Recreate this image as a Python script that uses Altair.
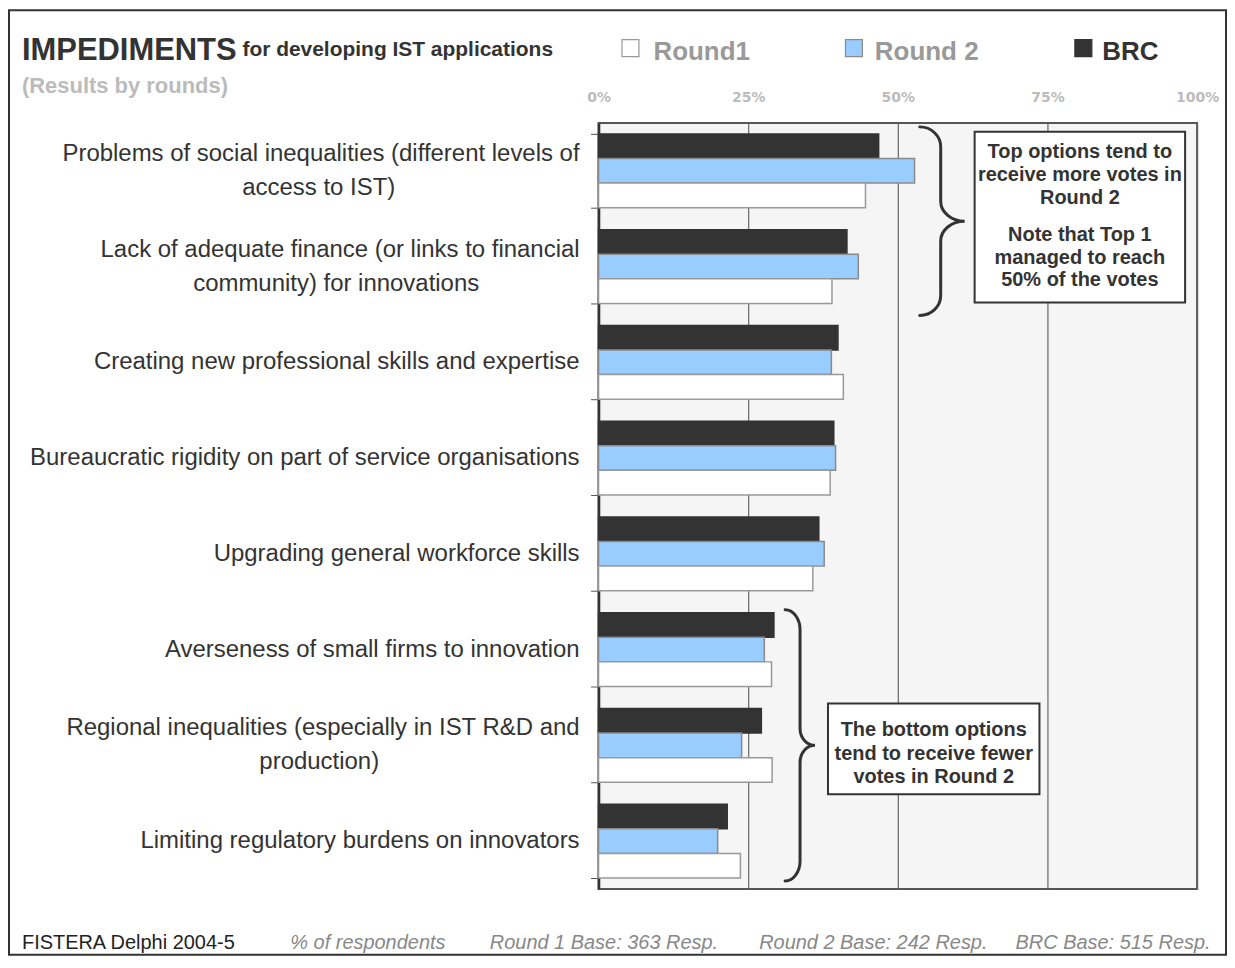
import altair as alt
import pandas as pd

# ---------------- data ----------------
categories = [
    "Problems of social inequalities (different levels of|access to IST)",
    "Lack of adequate finance (or links to financial|community) for innovations",
    "Creating new professional skills and expertise",
    "Bureaucratic rigidity on part of service organisations",
    "Upgrading general workforce skills",
    "Averseness of small firms to innovation",
    "Regional inequalities (especially in IST R&D and|production)",
    "Limiting regulatory burdens on innovators",
]
series = ["BRC", "Round 2", "Round1"]
brc = [46.8, 41.5, 40.0, 39.3, 36.8, 29.3, 27.2, 21.5]
round2 = [52.8, 43.4, 38.9, 39.6, 37.7, 27.7, 23.9, 19.9]
round1 = [44.6, 39.0, 40.9, 38.7, 35.8, 28.9, 29.0, 23.7]
x_ticks = [0, 25, 50, 75, 100]

legend_labels = ["Round1", "Round 2", "BRC"]
top_note_1 = ["Top options tend to", "receive more votes in", "Round 2"]
top_note_2 = ["Note that Top 1", "managed to reach", "50% of the votes"]
bottom_note = ["The bottom options", "tend to receive fewer", "votes in Round 2"]
footer = [
    "FISTERA Delphi 2004-5",
    "% of respondents",
    "Round 1 Base: 363 Resp.",
    "Round 2 Base: 242 Resp.",
    "BRC Base: 515 Resp.",
]

# ---------------- styles ----------------
FONT = "Liberation Sans"
LABEL_SIZE = 24
fills = {"BRC": "#333333", "Round 2": "#99ccff", "Round1": "#ffffff"}
strokes = {"BRC": "#333333", "Round 2": "#8a8a8a", "Round1": "#999999"}
legend_text_color = {"Round1": "#999999", "Round 2": "#999999", "BRC": "#333333"}

rows = []
for i, c in enumerate(categories):
    rows.append({"cat": c, "series": "BRC", "value": brc[i]})
    rows.append({"cat": c, "series": "Round 2", "value": round2[i]})
    rows.append({"cat": c, "series": "Round1", "value": round1[i]})
df = pd.DataFrame(rows)

one = pd.DataFrame({"k": [0]})

y_axis = alt.Axis(
    title=None, labels=False, tickSize=8,
    tickColor="#555555", tickWidth=1, tickBand="extent",
    domainColor="#333333", domainWidth=2.5, grid=False,
)
y_scale = alt.Scale(paddingInner=0.229, paddingOuter=0.115)


def y_enc():
    return alt.Y("cat:N", sort=categories, scale=y_scale, axis=y_axis)


bars = alt.Chart(df).mark_bar(strokeWidth=1.5).encode(
    x=alt.X(
        "value:Q",
        scale=alt.Scale(domain=[0, 100], nice=False),
        axis=alt.Axis(
            orient="top", values=x_ticks, labelExpr="datum.value + '%'",
            domain=False, ticks=False, grid=True, gridColor="#666666",
            gridWidth=1.2, labelFont="DejaVu Sans", labelFontWeight="bold",
            labelFontSize=14, labelColor="#bbbbbb", labelPadding=18,
            labelFlush=False, title=None,
        ),
    ),
    y=y_enc(),
    yOffset=alt.YOffset("series:N", sort=series,
                        scale=alt.Scale(paddingInner=0, paddingOuter=0)),
    color=alt.Color("series:N", scale=alt.Scale(domain=series, range=[fills[s] for s in series]), legend=None),
    stroke=alt.Stroke("series:N", scale=alt.Scale(domain=series, range=[strokes[s] for s in series]), legend=None),
)

layers = [bars]

# category labels: one-line labels, first lines and centred second lines
single = pd.DataFrame({"cat": [c for c in categories if "|" not in c]})
single["txt"] = single["cat"]
double = pd.DataFrame({"cat": [c for c in categories if "|" in c]})
double["line1"] = [c.split("|")[0] for c in double["cat"]]

label_style = dict(font=FONT, fontSize=LABEL_SIZE, color="#333333", baseline="middle")
layers.append(
    alt.Chart(single).mark_text(align="right", **label_style).encode(
        y=y_enc(), x=alt.value(-19), text="txt:N"
    )
)
layers.append(
    alt.Chart(double).mark_text(align="right", dy=-17, **label_style).encode(
        y=y_enc(), x=alt.value(-19), text="line1:N"
    )
)
LINE2_X = {0: -280.5, 1: -263, 6: -280}
for i, c in enumerate(categories):
    if "|" in c:
        d = pd.DataFrame({"cat": [c], "line2": [c.split("|")[1]]})
        layers.append(
            alt.Chart(d).mark_text(align="center", dy=17, **label_style).encode(
                y=y_enc(), x=alt.value(LINE2_X[i]), text="line2:N"
            )
        )


# curly braces as custom symbol paths
def brace_path(h, a, b, r, c):
    k = 0.448
    pts = [
        ("M", a, -h),
        ("C", a * k, -h), ("", 0, -h + r * k), ("", 0, -h + r),
        ("L", 0, -c),
        ("C", 0, -c * k), ("", b * k, 0), ("", b, 0),
        ("C", b * k, 0), ("", 0, c * k), ("", 0, c),
        ("L", 0, h - r),
        ("C", 0, h - r * k), ("", a * k, h), ("", a, h),
    ]
    out = []
    for cmd, x, y in pts:
        s = f"{x / h:.4f} {y / h:.4f}"
        out.append((cmd + " " + s) if cmd else s)
    return " ".join(out)


def brace(cx, cy, h, a, b, r, c):
    return alt.Chart(one).mark_point(
        shape=brace_path(h, a, b, r, c), filled=False, stroke="#333333",
        strokeWidth=3, size=(2 * h) ** 2, opacity=1, strokeCap="round",
    ).encode(x=alt.value(cx), y=alt.value(cy))


layers.append(brace(343, 98.5, 94.5, -21, 24, 20, 20))
layers.append(brace(202, 624, 136, -15, 15, 20, 17))


def box(x1, y1, x2, y2):
    return alt.Chart(one).mark_rect(
        fill="#ffffff", stroke="#333333", strokeWidth=2,
    ).encode(x=alt.value(x1), x2=alt.value(x2), y=alt.value(y1), y2=alt.value(y2))


def lines(x, y, text, size=20, color="#333333", weight="bold", align="center",
          style="normal", lh=23):
    return alt.Chart(one).mark_text(
        text=text, font=FONT, fontSize=size, fontWeight=weight, color=color,
        align=align, baseline="alphabetic", lineHeight=lh, fontStyle=style,
    ).encode(x=alt.value(x), y=alt.value(y))


layers.append(box(377, 9, 588, 180))
layers.append(lines(482.5, 35.5, top_note_1))
layers.append(lines(482.5, 118, top_note_2))
layers.append(box(230, 582, 442, 673))
layers.append(lines(336, 615, bottom_note, lh=23.5))

# legend
LEG_SQ_X = {"Round1": 32, "Round 2": 256, "BRC": 486}
LEG_TX_X = {"Round1": 55, "Round 2": 277, "BRC": 505}
for s in legend_labels:
    layers.append(
        alt.Chart(one).mark_square(
            size=289, fill=fills[s], stroke=strokes[s], strokeWidth=1.2, opacity=1,
        ).encode(x=alt.value(LEG_SQ_X[s]), y=alt.value(-75))
    )
    layers.append(lines(LEG_TX_X[s], -63, s, size=26, color=legend_text_color[s], align="left"))

# titles
layers.append(lines(-578, -63, "IMPEDIMENTS", size=31, align="left"))
layers.append(lines(-357, -67, "for developing IST applications", size=21, align="left"))
layers.append(lines(-578, -30, "(Results by rounds)", size=22, color="#bbbbbb", align="left"))

# footer
FOOT_X = [-578, -309, -109, 161, 418]
for j, t in enumerate(footer):
    if j == 0:
        layers.append(lines(FOOT_X[j], 828, t, size=20, color="#222222", weight="normal", align="left"))
    else:
        layers.append(lines(FOOT_X[j], 828, t, size=20, color="#888888", weight="normal",
                            align="left", style="italic"))

# outer frame
layers.append(
    alt.Chart(one).mark_rect(fillOpacity=0, stroke="#333333", strokeWidth=2).encode(
        x=alt.value(-591), x2=alt.value(629), y=alt.value(-113), y2=alt.value(834)
    )
)

chart = alt.layer(*layers).properties(
    width=600, height=768,
    padding={"left": 592, "top": 114, "right": 30, "bottom": 68},
    autosize=alt.AutoSizeParams(type="none"),
    background="#ffffff",
).configure_view(fill="#f5f5f5", stroke="#555555", strokeWidth=2)

chart.save("out.html", embed_options={"renderer": "svg", "actions": False})
